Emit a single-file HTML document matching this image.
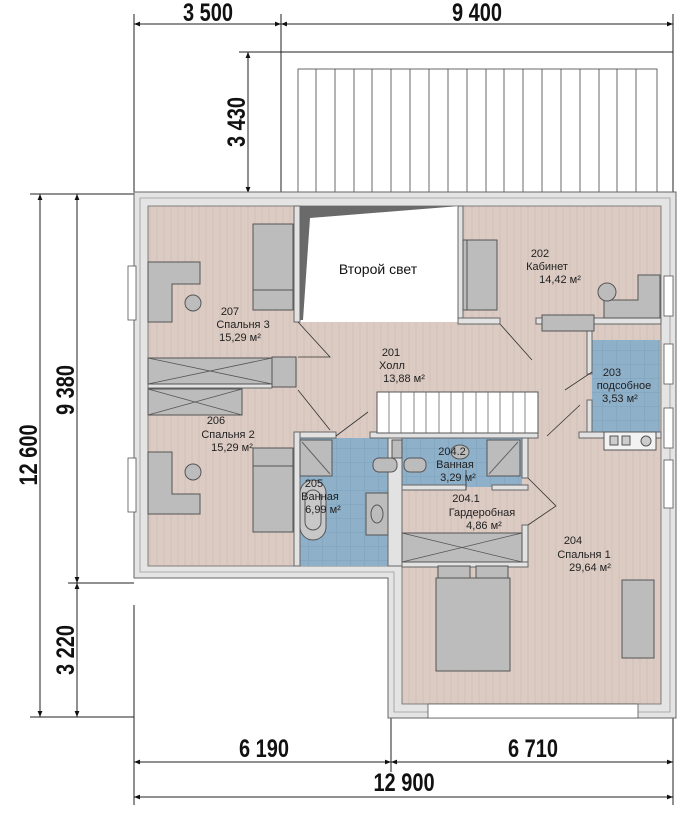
<!DOCTYPE html>
<html><head><meta charset="utf-8"><style>
html,body{margin:0;padding:0;background:#fff;}
svg{display:block;}
.d{font-family:"Liberation Sans Narrow","Liberation Sans",sans-serif;font-weight:bold;font-size:25px;fill:#111;}
.t{font-family:"Liberation Sans",sans-serif;font-size:11px;fill:#222;}
.f{fill:#bcbcbc;stroke:#555;stroke-width:1;}
.w{fill:#e2e2e2;stroke:#666;stroke-width:1;}
.ln{stroke:#222;stroke-width:1;fill:none;}
</style></head><body>
<svg width="700" height="829" viewBox="0 0 700 829" xmlns="http://www.w3.org/2000/svg">
<defs>
<marker id="a" viewBox="0 0 10 10" refX="10" refY="5" markerWidth="9" markerHeight="6" orient="auto-start-reverse"><path d="M0,1 L10,5 L0,9 z" fill="#111"/></marker>
<pattern id="wood" width="14" height="18" patternUnits="userSpaceOnUse"><rect width="14" height="18" fill="#dccbc3"/><path d="M3,0 V18 M10,0 V18" stroke="#d2c0b8" stroke-width="1"/></pattern>
<pattern id="tile" width="14" height="14" patternUnits="userSpaceOnUse"><rect width="14" height="14" fill="#8eb0c9"/><path d="M0,0 H14 M0,0 V14" stroke="#7fa2bd" stroke-width="1"/></pattern>
</defs>

<!-- top dims -->
<line x1="134" y1="14" x2="134" y2="192" class="ln" stroke-width="0.8"/>
<line x1="281" y1="14" x2="281" y2="192" class="ln" stroke-width="0.8"/>
<line x1="673" y1="14" x2="673" y2="192" class="ln" stroke-width="0.8"/>
<line x1="134" y1="24" x2="281" y2="24" class="ln" marker-start="url(#a)" marker-end="url(#a)"/>
<line x1="281" y1="24" x2="673" y2="24" class="ln" marker-start="url(#a)" marker-end="url(#a)"/>
<g transform="translate(208,21) scale(0.8,1)"><text class="d" text-anchor="middle">3 500</text></g>
<g transform="translate(477,21) scale(0.8,1)"><text class="d" text-anchor="middle">9 400</text></g>
<line x1="239" y1="52" x2="673" y2="52" class="ln" stroke-width="0.8"/>
<line x1="248" y1="52" x2="248" y2="193" class="ln" marker-start="url(#a)" marker-end="url(#a)"/>
<g transform="translate(245,122) rotate(-90) scale(0.8,1)"><text class="d" text-anchor="middle">3 430</text></g>

<!-- balcony -->
<rect x="298" y="69" width="359" height="123" fill="#fff" stroke="#444" stroke-width="0.8"/>
<g stroke="#444" stroke-width="0.8">
<path d="M316,69V192 M335,69V192 M354,69V192 M372,69V192 M391,69V192 M410,69V192 M429,69V192 M448,69V192 M467,69V192 M486,69V192 M504,69V192 M523,69V192 M542,69V192 M561,69V192 M580,69V192 M599,69V192 M617,69V192 M636,69V192"/>
</g>

<!-- left dims -->
<line x1="30" y1="194" x2="134" y2="194" class="ln" stroke-width="0.8"/>
<line x1="68" y1="583" x2="134" y2="583" class="ln" stroke-width="0.8"/>
<line x1="30" y1="717" x2="134" y2="717" class="ln" stroke-width="0.8"/>
<line x1="40" y1="194" x2="40" y2="717" class="ln" marker-start="url(#a)" marker-end="url(#a)"/>
<line x1="77" y1="194" x2="77" y2="583" class="ln" marker-start="url(#a)" marker-end="url(#a)"/>
<line x1="77" y1="583" x2="77" y2="717" class="ln" marker-start="url(#a)" marker-end="url(#a)"/>
<g transform="translate(37,455) rotate(-90) scale(0.8,1)"><text class="d" text-anchor="middle">12 600</text></g>
<g transform="translate(74,390) rotate(-90) scale(0.8,1)"><text class="d" text-anchor="middle">9 380</text></g>
<g transform="translate(74,650) rotate(-90) scale(0.8,1)"><text class="d" text-anchor="middle">3 220</text></g>

<!-- bottom dims -->
<line x1="134" y1="605" x2="134" y2="805" class="ln" stroke-width="0.8"/>
<line x1="391" y1="718" x2="391" y2="772" class="ln" stroke-width="0.8"/>
<line x1="673" y1="718" x2="673" y2="805" class="ln" stroke-width="0.8"/>
<line x1="134" y1="762" x2="391" y2="762" class="ln" marker-start="url(#a)" marker-end="url(#a)"/>
<line x1="391" y1="762" x2="673" y2="762" class="ln" marker-start="url(#a)" marker-end="url(#a)"/>
<line x1="134" y1="797" x2="673" y2="797" class="ln" marker-start="url(#a)" marker-end="url(#a)"/>
<g transform="translate(264,757) scale(0.8,1)"><text class="d" text-anchor="middle">6 190</text></g>
<g transform="translate(533,757) scale(0.8,1)"><text class="d" text-anchor="middle">6 710</text></g>
<g transform="translate(404,791) scale(0.8,1)"><text class="d" text-anchor="middle">12 900</text></g>

<!-- outer walls -->
<path d="M134,192 H676 V718 H388 V578 H134 Z" fill="#e4e4e4" stroke="#666" stroke-width="1"/>
<path d="M140,198 H670 V712 H394 V572 H140 Z" fill="none" stroke="#999" stroke-width="0.8"/>
<!-- floor -->
<path d="M148,206 H661 V704 H402 V566 H148 Z" fill="url(#wood)" stroke="#666" stroke-width="0.8"/>
<!-- blue floors -->
<rect x="298" y="438" width="90" height="128" fill="url(#tile)"/>
<rect x="370" y="438" width="152" height="49" fill="url(#tile)"/>
<rect x="592" y="340" width="68" height="92" fill="url(#tile)"/>

<!-- void -->
<rect x="300" y="206" width="160" height="116" fill="#fff"/>
<path d="M300,206 H460 L310,218 L303,320 H300 Z" fill="#6a6a6a"/>
<text x="378" y="274" font-family="Liberation Sans,sans-serif" font-size="14" fill="#111" text-anchor="middle">Второй свет</text>

<!-- interior walls -->
<rect x="294" y="206" width="6" height="116" class="w"/>
<rect x="458" y="206" width="5" height="116" class="w"/>
<rect x="458" y="318" width="42" height="6" class="w"/>
<rect x="536" y="318" width="125" height="6" class="w"/>
<rect x="587" y="324" width="5" height="50" class="w"/>
<rect x="587" y="400" width="5" height="36" class="w"/>
<rect x="579" y="432" width="82" height="6" class="w"/>
<rect x="294" y="432" width="42" height="6" class="w"/>
<rect x="370" y="432" width="168" height="6" class="w"/>
<rect x="294" y="432" width="6" height="134" class="w"/>
<rect x="388" y="438" width="14" height="128" class="w"/>
<rect x="402" y="485" width="64" height="5" class="w"/>
<rect x="492" y="485" width="36" height="5" class="w"/>
<rect x="522" y="438" width="6" height="40" class="w"/>
<rect x="522" y="525" width="6" height="41" class="w"/>
<rect x="402" y="562" width="126" height="5" class="w"/>
<rect x="148" y="384" width="124" height="4" class="w"/>

<!-- stairs -->
<rect x="377" y="392" width="161" height="41" fill="#fff" stroke="#555"/>
<g stroke="#666" stroke-width="0.8"><path d="M389,392V433 M401,392V433 M414,392V433 M426,392V433 M439,392V433 M451,392V433 M463,392V433 M476,392V433 M488,392V433 M500,392V433 M513,392V433 M525,392V433"/></g>

<!-- door swings -->
<g stroke="#333" stroke-width="0.8" fill="none">
<path d="M298,322 L330,357 H298"/>
<path d="M298,390 L330,430"/>
<path d="M336,436 L368,412"/>
<path d="M500,324 L532,360"/>
<path d="M592,372 L565,390"/>
<path d="M547,436 L580,405"/>
<path d="M528,478 L556,506 L528,525"/>
<path d="M466,490 V470"/>
</g>

<!-- furniture 207 -->
<path d="M148,262 H200 V284 H172 V322 H148 Z" class="f"/>
<circle cx="193" cy="303" r="8" class="f"/>
<rect x="253" y="224" width="40" height="86" class="f"/>
<line x1="253" y1="290" x2="293" y2="290" stroke="#555"/>
<rect x="148" y="358" width="124" height="26" class="f"/>
<path d="M148,358 L272,384 M148,384 L272,358" stroke="#555" stroke-width="0.8"/>
<rect x="272" y="357" width="24" height="30" class="f"/>
<!-- 206 -->
<rect x="148" y="389" width="94" height="26" class="f"/>
<path d="M148,389 L242,415 M148,415 L242,389" stroke="#555" stroke-width="0.8"/>
<path d="M148,452 H172 V494 H200 V514 H148 Z" class="f"/>
<circle cx="193" cy="472" r="8" class="f"/>
<rect x="253" y="448" width="40" height="84" class="f"/>
<line x1="253" y1="466" x2="293" y2="466" stroke="#555"/>
<!-- 205 -->
<rect x="300" y="440" width="32" height="36" class="f"/>
<path d="M302,442 L330,474" stroke="#666"/>
<rect x="300" y="480" width="26" height="60" rx="13" fill="#c8c8c8" stroke="#555"/>
<rect x="305" y="490" width="16" height="40" rx="8" fill="none" stroke="#555"/>
<rect x="366" y="493" width="22" height="42" class="f"/>
<ellipse cx="377" cy="514" rx="6" ry="9" fill="none" stroke="#555"/>
<!-- 204.2 -->
<rect x="373" y="458" width="24" height="14" rx="6" class="f"/>
<rect x="404" y="458" width="22" height="14" rx="6" class="f"/>
<rect x="392" y="440" width="10" height="18" class="f"/>
<ellipse cx="460" cy="452" rx="9" ry="7" class="f"/>
<rect x="487" y="440" width="33" height="36" class="f"/>
<path d="M489,474 L518,442" stroke="#666"/>
<!-- 204.1 wardrobe -->
<rect x="402" y="533" width="120" height="29" class="f"/>
<path d="M402,533 L522,562 M402,562 L522,533" stroke="#555" stroke-width="0.8"/>
<!-- 204 bed -->
<rect x="438" y="566" width="32" height="18" class="f"/>
<rect x="476" y="566" width="32" height="18" class="f"/>
<rect x="436" y="578" width="74" height="93" class="f"/>
<rect x="622" y="580" width="32" height="78" class="f"/>
<!-- 202 -->
<rect x="463" y="240" width="34" height="70" class="f"/>
<line x1="467" y1="240" x2="467" y2="310" stroke="#555"/>
<path d="M638,275 H660 V318 H604 V300 H638 Z" class="f"/>
<circle cx="607" cy="292" r="9" class="f"/>
<rect x="542" y="315" width="52" height="16" class="f"/>
<!-- 203 -->
<rect x="604" y="432" width="52" height="18" fill="#f2f2f2" stroke="#555"/>
<rect x="610" y="436" width="8" height="9" fill="#ccc" stroke="#555"/>
<rect x="622" y="436" width="8" height="9" fill="#ccc" stroke="#555"/>
<circle cx="646" cy="441" r="5" fill="#ccc" stroke="#555"/>
<!-- windows -->
<g fill="#fff" stroke="#555" stroke-width="0.8">
<rect x="128" y="266" width="8" height="54"/>
<rect x="128" y="458" width="8" height="54"/>
<rect x="664" y="276" width="9" height="40"/>
<rect x="664" y="344" width="9" height="40"/>
<rect x="664" y="408" width="9" height="40"/>
<rect x="664" y="460" width="9" height="48"/>
<rect x="428" y="704" width="210" height="14"/>
</g>

<!-- labels -->
<g class="t" text-anchor="middle">
<text x="230" y="315">207</text><text x="243" y="328">Спальня 3</text><text x="240" y="341">15,29 м²</text>
<text x="391" y="356">201</text><text x="392" y="369">Холл</text><text x="404" y="382">13,88 м²</text>
<text x="540" y="257">202</text><text x="547" y="270">Кабинет</text><text x="560" y="283">14,42 м²</text>
<text x="612" y="376">203</text><text x="624" y="389">подсобное</text><text x="620" y="402">3,53 м²</text>
<text x="216" y="424">206</text><text x="228" y="438">Спальня 2</text><text x="232" y="451">15,29 м²</text>
<text x="314" y="487">205</text><text x="320" y="500">Ванная</text><text x="323" y="513">6,99 м²</text>
<text x="452" y="455">204.2</text><text x="455" y="468">Ванная</text><text x="458" y="481">3,29 м²</text>
<text x="466" y="502">204.1</text><text x="482" y="516">Гардеробная</text><text x="484" y="529">4,86 м²</text>
<text x="573" y="544">204</text><text x="584" y="558">Спальня 1</text><text x="590" y="571">29,64 м²</text>
</g>
</svg>
</body></html>
